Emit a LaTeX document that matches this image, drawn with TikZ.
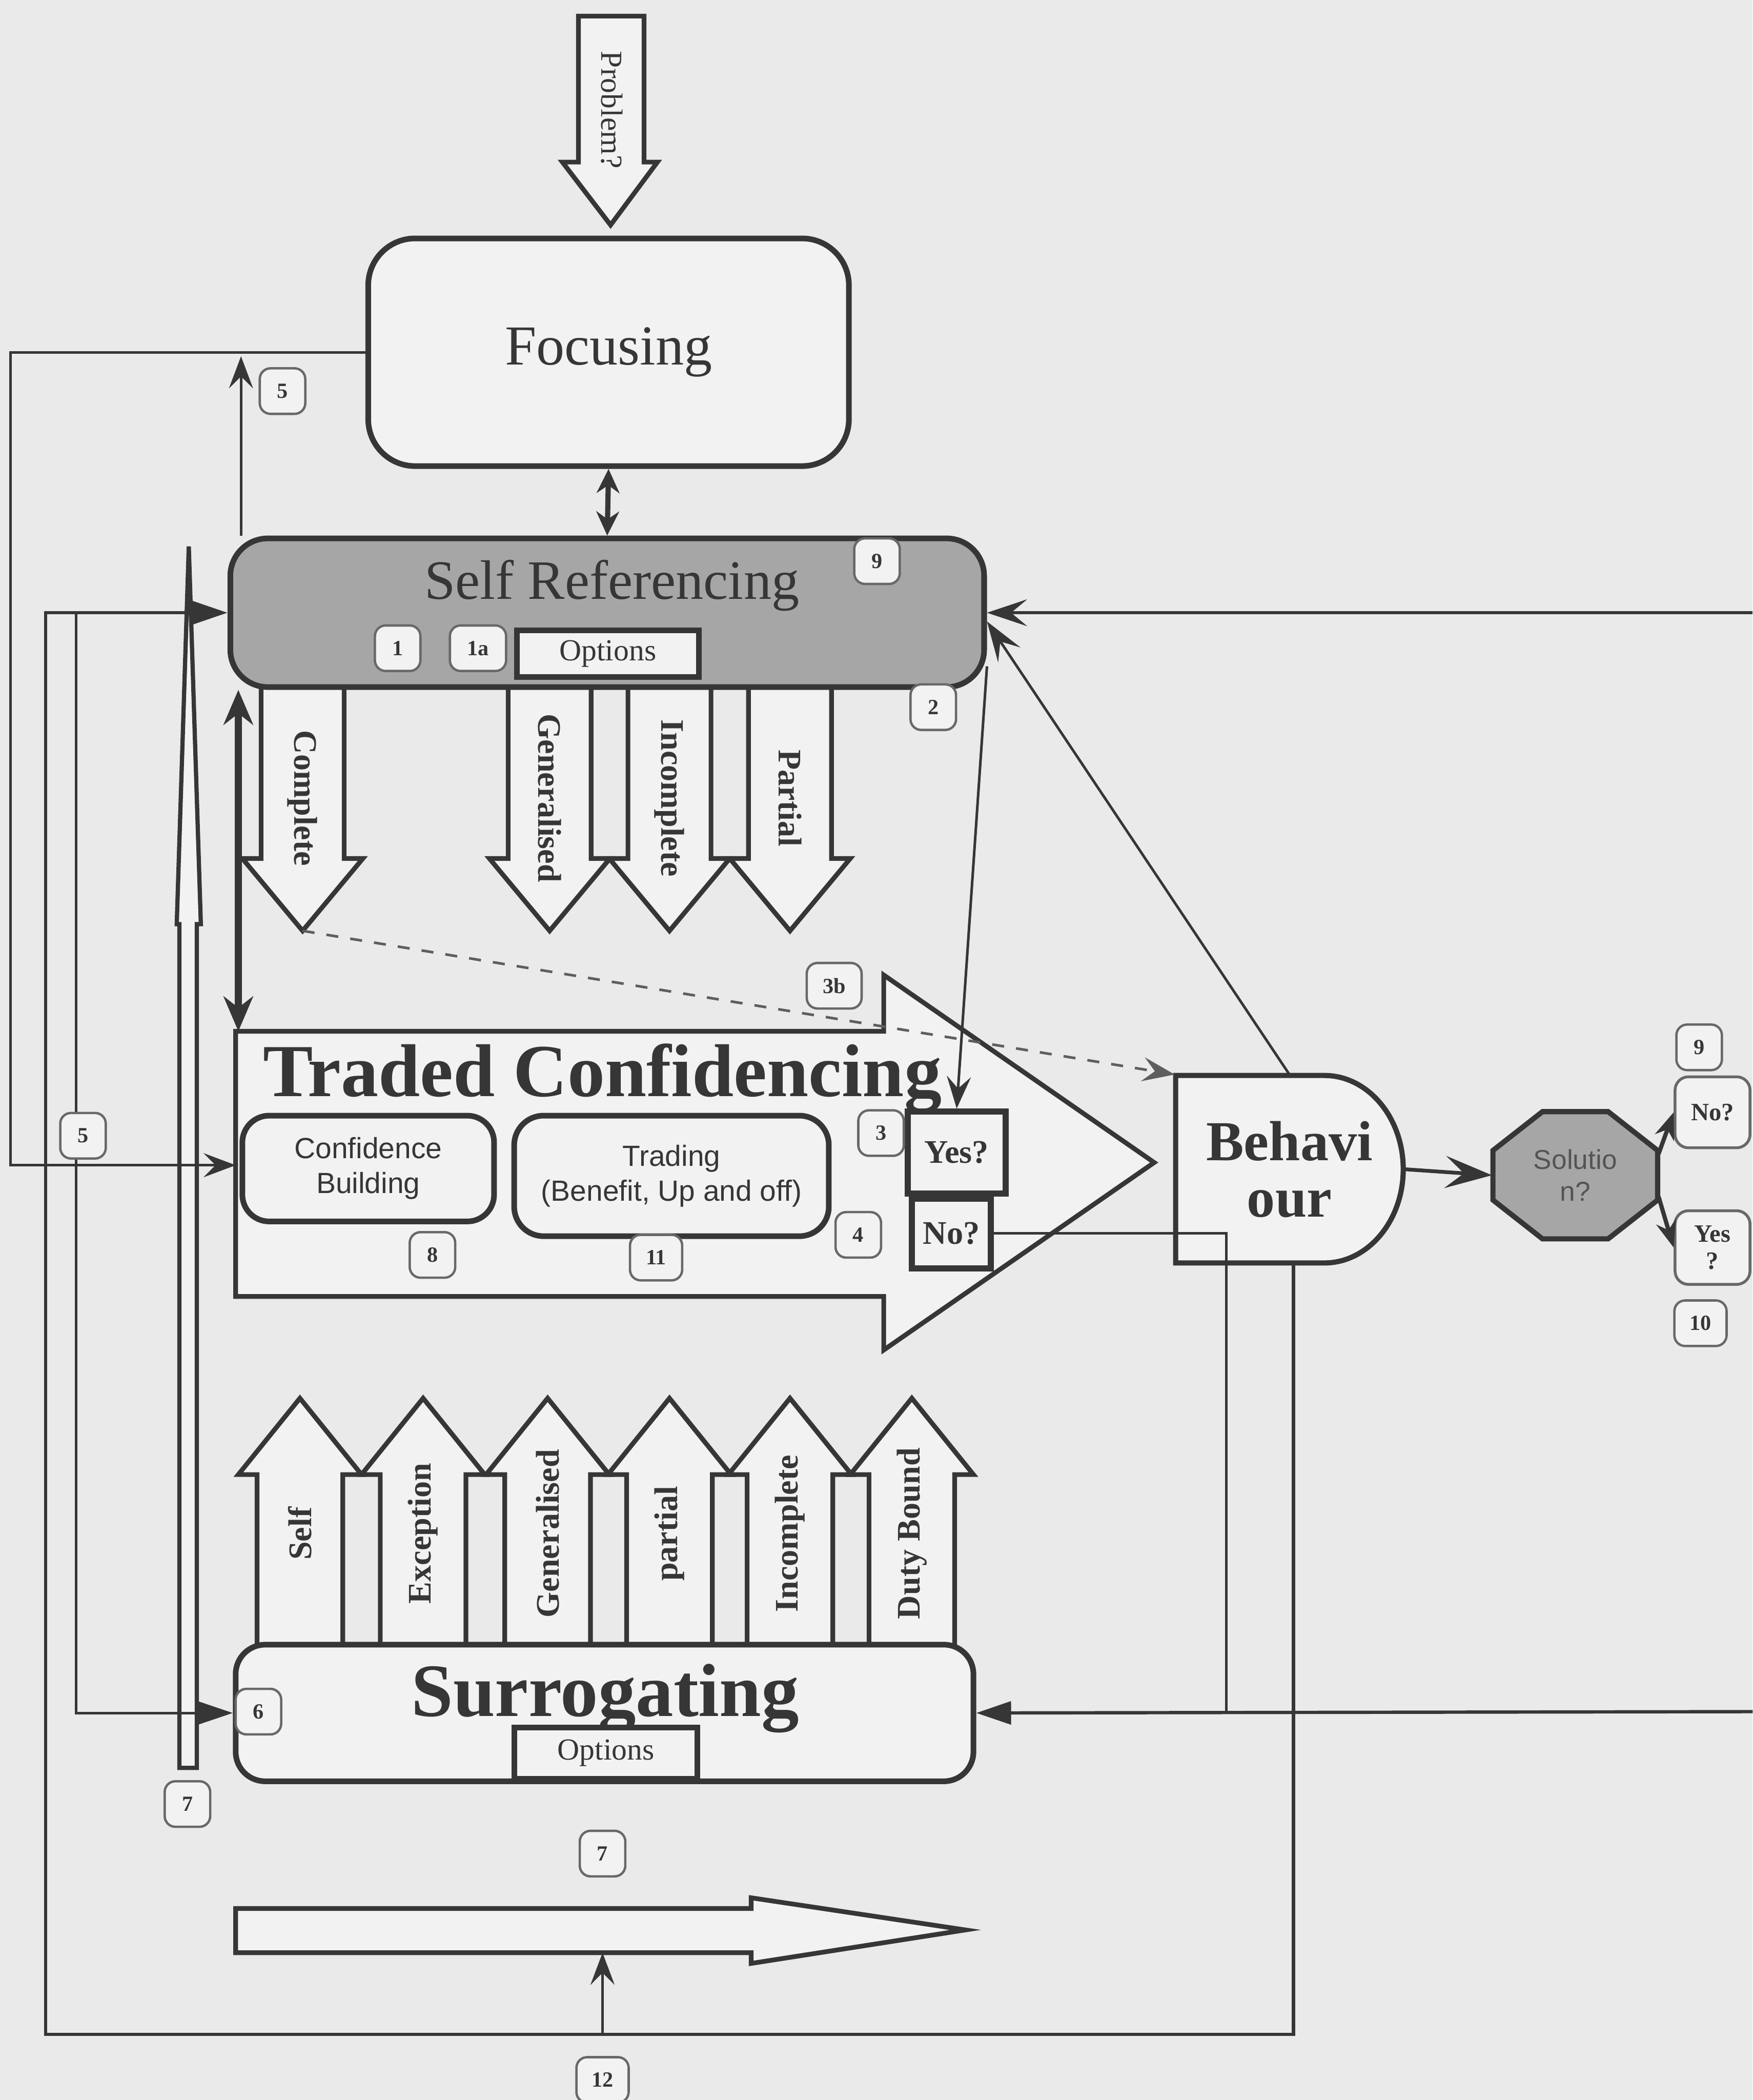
\documentclass[tikz,border=0pt]{standalone}
\usepackage{fontspec}
\setmainfont{Liberation Serif}
\newfontfamily\sansfam{Liberation Sans}
\usetikzlibrary{arrows.meta,positioning}
\definecolor{paper}{HTML}{EAEAEA}
\definecolor{ink}{HTML}{363636}
\definecolor{boxfill}{HTML}{F2F2F2}
\definecolor{shade}{HTML}{A6A6A6}

\begin{document}
\begin{tikzpicture}[
    x=0.1mm, y=-0.1mm,
    >={Stealth[length=2.4mm,width=1.8mm,inset=0.9mm]},
    line/.style={ink,line width=0.55pt},
    blockarr/.style={draw=ink,line width=1pt,fill=boxfill,line join=miter},
    box/.style={draw=ink,line width=1.2pt,fill=boxfill,rounded corners=#1,inner sep=0pt},
    box/.default=2mm,
    optbox/.style={draw=ink,line width=1.2pt,fill=boxfill,inner sep=0pt,
        font=\fontsize{6.5}{7}\selectfont,text=ink},
    tag/.style={draw=ink!75,line width=0.5pt,fill=boxfill,rounded corners=0.8mm,
        minimum width=3.4mm,minimum height=3.4mm,inner sep=0pt,
        font=\fontsize{4.6}{5}\selectfont\bfseries,text=ink},
    downlab/.style={rotate=-90,font=\fontsize{7}{8}\selectfont\bfseries,text=ink},
    uplab/.style={rotate=90,font=\fontsize{7}{8}\selectfont\bfseries,text=ink},
    sanslab/.style={font=\sansfam\fontsize{6.2}{7.4}\selectfont,text=ink,align=center},
    decision/.style={draw=ink,line width=1.3pt,fill=boxfill,inner sep=0pt,
        font=\fontsize{7}{8}\selectfont\bfseries,text=ink},
    answer/.style={draw=ink!75,line width=0.6pt,fill=boxfill,rounded corners=1mm,
        inner sep=0pt,minimum width=5.6mm,align=center,
        font=\fontsize{5.3}{5.8}\selectfont\bfseries,text=ink},
]
\useasboundingbox (0,0) rectangle (1309,1568);
\fill[paper] (0,0) rectangle (1309,1568);

% === Top: problem and focusing ===
\draw[blockarr] (432,12) -- (481,12) -- (481,121) -- (491,121) -- (456,168)
    -- (420,121) -- (432,121) -- cycle;
\node[rotate=-90,font=\fontsize{6.5}{7}\selectfont,text=ink] (problem) at (457,82) {Problem?};
\node[box=3.5mm,minimum width=35.9mm,minimum height=17mm,
    font=\fontsize{12}{14}\selectfont,text=ink] (focus) at (454.5,263) {Focusing};

% === Self referencing and its options ===
\foreach \x/\lab/\n in {226/Complete/1,410.5/Generalised/2,500/Incomplete/3,590/Partial/4}{
    \draw[blockarr] ({\x-31},510) -- ({\x+31},510) -- ({\x+31},641) -- ({\x+45},641)
        -- (\x,695) -- ({\x-45},641) -- ({\x-31},641) -- cycle;
    \coordinate (tip\n) at (\x,695);
    \node[downlab] (down\n) at (\x,596) {\lab};
}
\node[box=2.8mm,fill=shade,minimum width=56.3mm,minimum height=11.1mm] (selfref) at (453.5,457.5) {};
\node[font=\fontsize{11.8}{13}\selectfont,text=ink] (selfreft) at (457,437) {Self Referencing};
\node[optbox,minimum width=13.6mm,minimum height=3.5mm] (opt1) at (454,488) {Options};

% === Traded confidencing ===
\draw[blockarr] (176,770) -- (660,770) -- (660,728) -- (862,868) -- (660,1008)
    -- (660,968) -- (176,968) -- cycle;
\coordinate (tcwest) at (176,870);
\coordinate (tctop) at (178,770);
\node[font=\fontsize{15.9}{17}\selectfont\bfseries,text=ink] (tctitle) at (450,805) {Traded Confidencing};
\node[box=2mm,sanslab,minimum width=18.8mm,minimum height=7.9mm] (confb) at (275,872.5)
    {Confidence\\Building};
\node[box=2.2mm,sanslab,minimum width=23.5mm,minimum height=9mm] (trade) at (501.5,878)
    {Trading\\(Benefit, Up and off)};
\node[decision,minimum width=7.3mm,minimum height=6.1mm] (yes) at (714.5,860.5) {Yes?};
\node[decision,minimum width=5.9mm,minimum height=5.2mm] (no) at (710.5,921) {No?};

% === Behaviour and solution ===
\begin{scope}[shift={(963,873)}]
    \draw[draw=ink,line width=1.1pt,fill=boxfill] (-85,-70) -- (26,-70)
        arc[start angle=90,end angle=-90,x radius=5.9mm,y radius=7mm] -- (-85,70) -- cycle;
    \node[minimum width=17mm,minimum height=14mm,inner sep=0pt,align=center,
        font=\fontsize{12}{12}\selectfont\bfseries,text=ink] (behav) at (0,0) {Behavi\\our};
\end{scope}
\begin{scope}[shift={(1176.5,877.5)}]
    \draw[draw=ink,line width=1.1pt,fill=shade] (-24.5,-47.5) -- (24.5,-47.5) -- (61.5,-18.5)
        -- (61.5,18.5) -- (24.5,47.5) -- (-24.5,47.5) -- (-61.5,18.5) -- (-61.5,-18.5) -- cycle;
    \node[minimum width=12.3mm,minimum height=9.5mm,inner sep=0pt,align=center,
        font=\sansfam\fontsize{5.8}{6.8}\selectfont,text=ink!85] (sol) at (0,0) {Solutio\\n?};
\end{scope}
\node[answer,minimum height=5.3mm] (rno) at (1279,830.5) {No?};
\node[answer,minimum height=5.5mm] (ryes) at (1279,931.5) {Yes\\?};

% === Surrogating and its options ===
\foreach \x/\lab/\n in {224/Self/1,316/Exception/2,409/Generalised/3,500/partial/4,590/Incomplete/5,681/Duty Bound/6}{
    \draw[blockarr] ({\x-32},1231) -- ({\x-32},1101) -- ({\x-46},1101) -- (\x,1044)
        -- ({\x+46},1101) -- ({\x+32},1101) -- ({\x+32},1231) -- cycle;
    \node[uplab] (up\n) at (\x,1145) {\lab};
}
\node[box=2.2mm,minimum width=55.1mm,minimum height=10.2mm] (surr) at (451.5,1279) {};
\node[font=\fontsize{16}{17}\selectfont\bfseries,text=ink] (surrt) at (452,1268) {Surrogating};
\node[optbox,minimum width=13.7mm,minimum height=3.8mm] (opt2) at (452.5,1309) {Options};

% === Bottom arrow and long thin arrow ===
\draw[blockarr] (176,1425) -- (561,1425) -- (561,1417) -- (721,1441) -- (561,1466)
    -- (561,1458) -- (176,1458) -- cycle;
\coordinate (botarrs) at (450,1458);
\draw[ink,line width=0.9pt,fill=boxfill] (134,1320) -- (134,690) -- (132,690) -- (141,408)
    -- (150,690) -- (147,690) -- (147,1320) -- cycle;

% === Connectors ===
\coordinate (farleft) at (8,263);
\coordinate (up5) at (180,266);
\coordinate (feedx) at (57,0);
\coordinate (loopbot) at (34,1519);
\coordinate (redge1) at (1309,457.5);
\coordinate (redge2) at (1309,1278);
\coordinate (noturn) at (916,1278);
\draw[ink,line width=1.1pt,{Stealth[length=1.8mm,width=1.7mm]}-{Stealth[length=1.8mm,width=1.7mm]}]
    (focus.south) -- (selfref.north);
\draw[line,->] (focus.west) -- (farleft) |- (tcwest);
\draw[line,->] (up5 |- selfref.north) -- (up5);
\draw[ink,line width=1.6pt,{Stealth[length=2.6mm,width=2.2mm]}-{Stealth[length=2.6mm,width=2.2mm]}]
    (tctop |- selfref.south) -- (tctop);
\draw[line,line width=0.7pt,-{Triangle[length=2.6mm,width=1.7mm]}]
    ([xshift=0.3mm]behav.south) |- (loopbot) |- (selfref.west);
\draw[line,-{Triangle[length=2.6mm,width=1.7mm]}] (selfref.west -| feedx) |- (surr.west);
\draw[line,->] (botarrs |- loopbot) -- (botarrs);
\draw[line,line width=0.7pt,->,>={Stealth[length=3mm,width=2mm,inset=1.2mm]}] (redge1) -- (selfref.east);
\draw[line,->,>={Stealth[length=3mm,width=2mm,inset=1.2mm]}] (behav.north) -- ([yshift=-0.65mm]selfref.east);
\draw[line,->] ([yshift=-4mm]selfref.east) -- (yes.north);
\draw[line,ink!80,dashed,dash pattern=on 0.9mm off 0.9mm,->] (tip1) -- (behav.north west);
\draw[line] (no.east) -| (noturn);
\draw[line,line width=0.7pt,-{Triangle[length=2.6mm,width=1.7mm]}] (redge2) -- (surr.east);
\draw[line,line width=0.8pt,->,>={Stealth[length=3.5mm,width=2.4mm,inset=1.4mm]}] (behav.east) -- (sol.west);
\draw[ink,line width=0.9pt,-{Stealth[length=2mm,width=1.5mm]}] ([yshift=1.6mm]sol.east) -- (rno.west);
\draw[ink,line width=0.9pt,-{Stealth[length=2mm,width=1.5mm]}] ([yshift=-1.6mm]sol.east) -- (ryes.west);

% === Step numbers ===
\node[tag] (t5a) at (211,292) {5};
\node[tag] (t5b) at (62,848) {5};
\node[tag] (t9) at (655,419) {9};
\node[tag] (t1) at (297,484) {1};
\node[tag,minimum width=4.2mm] (t1a) at (357,484) {1a};
\node[tag] (t2) at (697,528) {2};
\node[tag,minimum width=4.1mm] (t3b) at (623,736) {3b};
\node[tag] (t3) at (658,846) {3};
\node[tag] (t4) at (641,922) {4};
\node[tag] (t8) at (323,937) {8};
\node[tag,minimum width=3.9mm] (t11) at (490,939) {11};
\node[tag] (t6) at (193,1278) {6};
\node[tag] (t7a) at (140,1347) {7};
\node[tag] (t7b) at (450,1384) {7};
\node[tag,minimum width=3.9mm] (t12) at (450,1553) {12};
\node[tag] (t9r) at (1269,782) {9};
\node[tag,minimum width=3.9mm] (t10) at (1270,988) {10};
\end{tikzpicture}
\end{document}
